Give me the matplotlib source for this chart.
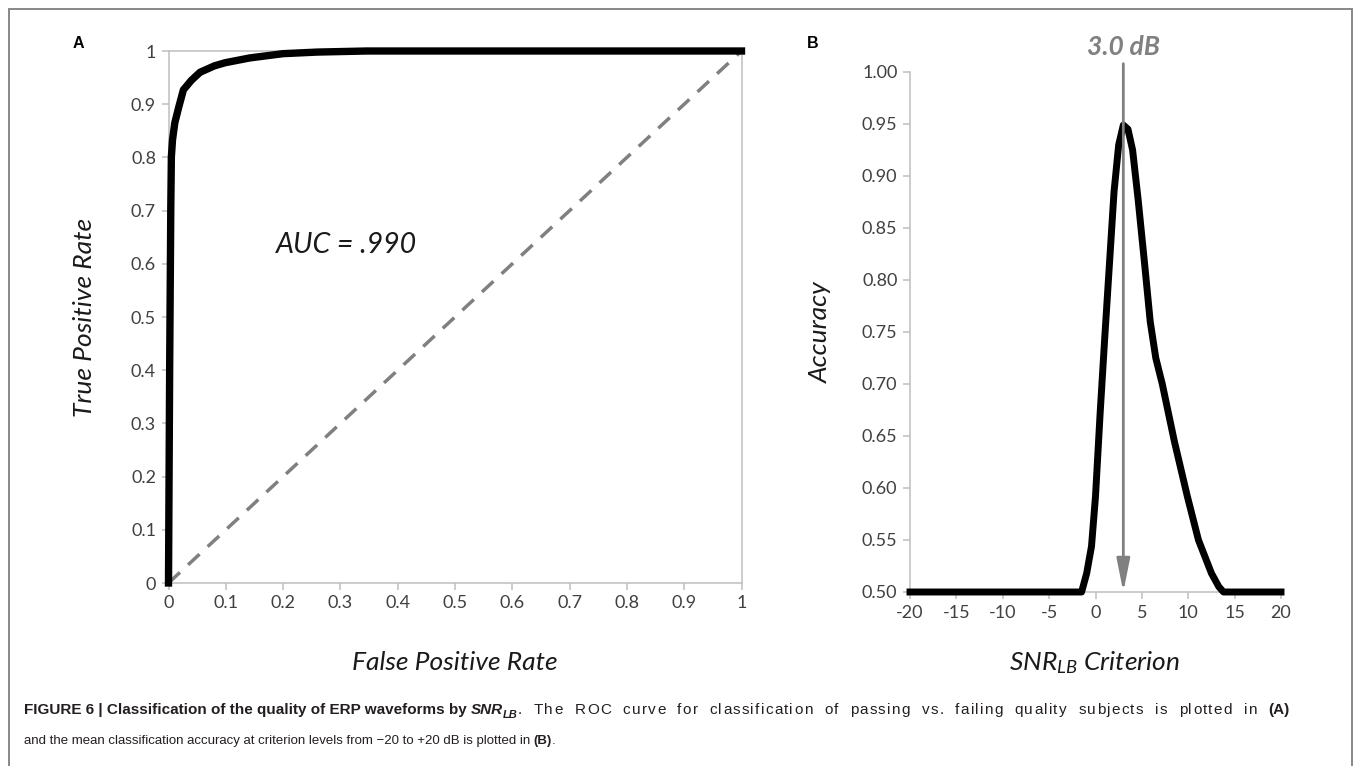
import numpy as np
import matplotlib
matplotlib.use("Agg")
import matplotlib.pyplot as plt
from matplotlib.transforms import IdentityTransform
from matplotlib.patches import Rectangle

# ROC curve (panel A)
roc_fpr = [0.0, 0.002, 0.004, 0.005, 0.007, 0.011, 0.018, 0.026, 0.040, 0.055, 0.080, 0.099, 0.142, 0.200, 0.260, 0.346, 0.500, 1.0]
roc_tpr = [0.0, 0.400, 0.707, 0.801, 0.833, 0.865, 0.895, 0.927, 0.945, 0.960, 0.972, 0.978, 0.987, 0.995, 0.998, 1.000, 1.000, 1.0]

# mean accuracy vs criterion (panel B)
snr_db = [-20, -1.5, -0.95, -0.43, 0.0, 0.5, 1.0, 1.5, 2.0, 2.5, 3.0, 3.5, 4.0, 4.6, 5.3, 5.9, 6.5, 7.2, 8.5, 9.9, 11.1, 12.5, 13.3, 13.8, 20]
accuracy = [0.50, 0.50, 0.518, 0.544, 0.592, 0.672, 0.745, 0.815, 0.885, 0.930, 0.949, 0.945, 0.925, 0.877, 0.815, 0.760, 0.725, 0.700, 0.645, 0.592, 0.550, 0.518, 0.505, 0.50, 0.50]
best_db = 3.0
auc = 0.990

W, H = 1355, 766
fig = plt.figure(figsize=(W / 100, H / 100), dpi=100)
px = IdentityTransform()
FONT = "Lato"
CAP = "Liberation Sans"
plt.rcParams["mathtext.fontset"] = "custom"
plt.rcParams["mathtext.it"] = "Lato:italic"
plt.rcParams["mathtext.rm"] = "Lato"

SPINE = "#BFBFBF"
TICKLBL = "#404040"

def box(x0, x1, y0, y1):
    # pixel box (y measured from top) -> figure fraction rect
    return [x0 / W, 1 - y1 / H, (x1 - x0) / W, (y1 - y0) / H]

def style(ax):
    for s in ax.spines.values():
        s.set_color(SPINE); s.set_linewidth(1.1)
    ax.tick_params(direction="out", length=5, width=1.1, color=SPINE,
                   labelcolor=TICKLBL, labelsize=13, pad=4)
    for lbl in ax.get_xticklabels() + ax.get_yticklabels():
        lbl.set_fontfamily(FONT)

# frame around the whole figure (open at the bottom)
fig.patches.append(Rectangle((9, -20), 1343, H - 9 + 20, transform=px,
                             fill=False, edgecolor="#7F7F7F", lw=1.3))

# ---- panel A ----
axA = fig.add_axes(box(168.5, 741.5, 51, 583))
axA.plot([0, 1], [0, 1], color="#808080", lw=2.5, dashes=(4.5, 3.2), zorder=2)
axA.plot(roc_fpr, roc_tpr, color="black", lw=5.3, solid_joinstyle="round",
         clip_on=False, zorder=3)
axA.set_xlim(0, 1); axA.set_ylim(0, 1)
ticks = np.round(np.arange(0, 1.01, 0.1), 1)
axA.set_xticks(ticks); axA.set_xticklabels([f"{t:g}" for t in ticks])
axA.set_yticks(ticks); axA.set_yticklabels([f"{t:g}" for t in ticks])
style(axA)
axA.text(0.31, 0.635, f"AUC = {auc:.3f}".replace("0.", "."), transform=axA.transAxes,
         fontsize=20.5, fontstyle="italic", family=FONT, ha="center", va="center", color="#1a1a1a")

# ---- panel B ----
axB = fig.add_axes(box(910, 1281, 72, 592))
axB.plot(snr_db, accuracy, color="black", lw=5, solid_joinstyle="round",
         clip_on=False, zorder=3)
axB.set_xlim(-20, 20); axB.set_ylim(0.5, 1.0)
xt = list(range(-20, 21, 5))
axB.set_xticks(xt); axB.set_xticklabels([f"{v:d}" for v in xt])
yt = np.round(np.arange(0.5, 1.001, 0.05), 2)
axB.set_yticks(yt); axB.set_yticklabels([f"{v:.2f}" for v in yt])
axB.spines["top"].set_visible(False); axB.spines["right"].set_visible(False)
style(axB)
axB.annotate("", xy=(best_db, 0.5), xytext=(best_db, 1.008),
             arrowprops=dict(arrowstyle="-|>,head_length=1.0,head_width=0.2",
                             color="#808080", lw=2, shrinkA=0, shrinkB=0, mutation_scale=20),
             annotation_clip=False, zorder=4)
axB.text(best_db, 1.024, f"{best_db:.1f} dB", fontsize=19, fontweight="bold", fontstyle="italic",
         family=FONT, color="#808080", ha="center", va="center", clip_on=False)

# axis titles
lab = dict(fontsize=19, fontstyle="italic", family=FONT, color="#1a1a1a", transform=px)
fig.text(84, H - 317, "True Positive Rate", rotation=90, ha="center", va="center", **lab)
fig.text(820, H - 332, "Accuracy", rotation=90, ha="center", va="center", **lab)
fig.text(455, H - 670, "False Positive Rate", ha="center", va="baseline", **lab)
fig.text(1095, H - 670, r"$SNR_{LB}$ Criterion", ha="center", va="baseline", **lab)

# panel letters
for x, s in [(78, "A"), (813, "B")]:
    fig.text(x, H - 43, s, family=CAP, fontweight="bold", fontsize=11.5,
             ha="center", va="center", transform=px)

# caption: runs of styled text; "stretch" runs get extra word and letter
# spacing so the first line is justified to the right edge
renderer = fig.canvas.get_renderer()
BOLD = {"family": CAP, "fontweight": "bold", "size": 11}
BOLDIT = {"family": CAP, "fontweight": "bold", "fontstyle": "italic", "size": 11}
SUB = {"family": CAP, "fontweight": "bold", "fontstyle": "italic", "size": 8}
REG = {"family": CAP, "size": 11}
REG2 = {"family": CAP, "size": 9.5}
BOLD2 = {"family": CAP, "fontweight": "bold", "size": 9.5}
_adv = {}

def advance(s, kw):
    key = (s, tuple(sorted(kw.items())))
    if key not in _adv:
        extra = {k: v for k, v in kw.items() if k != "size"}
        a = fig.text(0, 0, "n" + s + "n", fontsize=kw["size"], transform=px, **extra)
        b = fig.text(0, 0, "nn", fontsize=kw["size"], transform=px, **extra)
        _adv[key] = a.get_window_extent(renderer).width - b.get_window_extent(renderer).width
        a.remove(); b.remove()
    return _adv[key]

def caption_line(x, y, runs, right=None):
    pieces = []
    for s, kw, dy, stretch in runs:
        if stretch:
            pieces += [(c, kw, dy, 5.0 if c == " " else 1.0) for c in s]
        else:
            pieces.append((s, kw, dy, 0.0))
    natural = sum(advance(s, kw) for s, kw, _, _ in pieces)
    weight = sum(p[3] for p in pieces)
    e = (right - x - natural) / weight if (right is not None and weight) else 0
    for s, kw, dy, wt in pieces:
        if s.strip():
            fig.text(x, y + dy, s, fontsize=kw["size"], transform=px, va="baseline",
                     color="#231f20", **{k: v for k, v in kw.items() if k != "size"})
        x += advance(s, kw) + e * wt

caption_line(24, H - 714, [
    ("FIGURE 6 | Classification of the quality of ERP waveforms by", BOLD, 0, False),
    (" ", BOLD, 0, False),
    ("SNR", BOLDIT, 0, False),
    ("LB", SUB, -3.5, False),
    (". The ROC curve for classification of passing vs. failing quality subjects is plotted in ", REG, 0, True),
    ("(A)", BOLD, 0, False),
], right=1290)
caption_line(24, H - 744, [
    ("and the mean classification accuracy at criterion levels from \u221220 to +20 dB is plotted in ", REG2, 0, False),
    ("(B)", BOLD2, 0, False),
    (".", REG2, 0, False),
])

fig.savefig("out.png", dpi=100)
